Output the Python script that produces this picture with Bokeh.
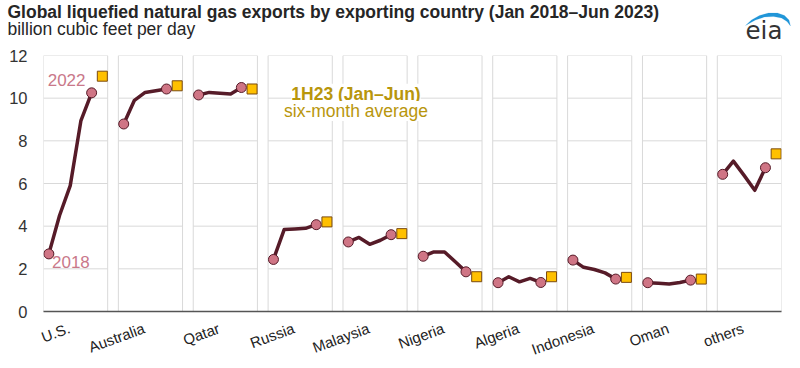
from bokeh.plotting import figure
from bokeh.layouts import column
from bokeh.models import Range1d, FixedTicker, Label, PolyAnnotation
from bokeh.embed import file_html
from bokeh.resources import INLINE

# ---------------- data ----------------
countries = ["U.S.", "Australia", "Qatar", "Russia", "Malaysia",
             "Nigeria", "Algeria", "Indonesia", "Oman", "others"]
years = [2018, 2019, 2020, 2021, 2022]
us        = [2.70, 4.50, 5.90, 8.95, 10.25]
australia = [8.79, 9.90, 10.27, 10.35, 10.43]
qatar     = [10.15, 10.27, 10.23, 10.20, 10.50]
russia    = [2.44, 3.84, 3.87, 3.90, 4.07]
malaysia  = [3.26, 3.47, 3.15, 3.34, 3.60]
nigeria   = [2.59, 2.79, 2.79, 2.33, 1.86]
algeria   = [1.35, 1.63, 1.39, 1.55, 1.36]
indonesia = [2.41, 2.07, 1.97, 1.81, 1.52]
oman      = [1.35, 1.32, 1.29, 1.36, 1.47]
others    = [6.43, 7.05, 6.38, 5.68, 6.74]
h1_2023   = [11.03, 10.58, 10.43, 4.20, 3.65, 1.63, 1.63, 1.60, 1.52, 7.39]
y_ticks = [0, 2, 4, 6, 8, 10, 12]

series = [us, australia, qatar, russia, malaysia, nigeria, algeria, indonesia, oman, others]

# ---------------- style constants ----------------
SLOT = 7          # 6 units of panel + 1 unit gap
PANEL = 6
FONT = "Liberation Sans"
LINE_C = "#561b28"
DOT_C = "#cf7585"
SQ_C = "#ffc000"
SQ_LINE = "#7a4a10"
GRID_C = "#d9d9d9"
PINK_TXT = "#c9788a"
GOLD_TXT = "#b8960c"
HEADER_H = 45
MID = 0.35   # label anchor is the text-box centre: baseline sits MID*font-size below it

# ---------------- header (title, subtitle, logo) ----------------
h = figure(width=800, height=HEADER_H, output_backend="svg", toolbar_location=None,
           x_range=Range1d(0, 800), y_range=Range1d(HEADER_H, 0),
           x_axis_type=None, y_axis_type=None, min_border=0)
h.frame_align = False
h.outline_line_color = None
h.grid.visible = False

def hlabel(x, base, text, fs, **kw):
    h.add_layout(Label(x=x, y=base - MID * fs, text=text, text_font_size=f"{fs}px",
                       text_baseline="alphabetic", **kw))

hlabel(7, 17.3, "Global liquefied natural gas exports by exporting country (Jan 2018\u2013Jun 2023)", 17.5,
       text_font=FONT, text_font_style="bold", text_color="#262626")
hlabel(7, 34.3, "billion cubic feet per day", 17.5, text_font=FONT, text_color="#262626")
hlabel(745, 38.5, "eia", 24.5, text_font="DejaVu Sans", text_color="#333333")
arc_px = [(745, 25), (751, 19.5), (759, 15), (768, 12.5), (777, 12.5), (784, 15), (788.5, 19.5), (790, 25.5),
          (786.5, 21), (781, 17.5), (773, 16), (764, 16.5), (755, 19.5), (745, 25)]
h.add_layout(PolyAnnotation(xs=[a for a, b in arc_px], ys=[b for a, b in arc_px],
                            fill_color="#2196d8", fill_alpha=1, line_color="#2196d8", line_width=0.5))

# ---------------- main chart ----------------
FX0, FX1, FY0, FY1 = 43.0, 781.0, 311.0, 55.0   # frame edges on the page
XMAX = len(countries) * SLOT - 1
p = figure(width=800, height=368 - HEADER_H, output_backend="svg", toolbar_location=None,
           x_range=Range1d(0, XMAX), y_range=Range1d(0, 12),
           min_border_left=int(FX0), min_border_right=int(800 - FX1),
           min_border_top=int(FY1 - HEADER_H), min_border_bottom=int(368 - FY0))
p.outline_line_color = None
p.xgrid.visible = False
p.ygrid.visible = False

# panels
lefts = [i * SLOT for i in range(len(countries))]
rights = [l + PANEL for l in lefts]
p.quad(left=lefts, right=rights, bottom=0, top=12, fill_color=None,
       line_color=GRID_C, line_width=1)
gx0, gx1, gy = [], [], []
for l, r in zip(lefts, rights):
    for t in y_ticks[1:-1]:
        gx0.append(l); gx1.append(r); gy.append(t)
p.segment(x0=gx0, y0=gy, x1=gx1, y1=gy, line_color=GRID_C, line_width=1)

# series
for i, vals in enumerate(series):
    xs = [i * SLOT + 0.5 + (yr - years[0]) for yr in years]
    p.line(xs, vals, line_color=LINE_C, line_width=3.5, line_join="round", line_cap="round")
    p.scatter([xs[0], xs[-1]], [vals[0], vals[-1]], marker="circle", size=10,
              fill_color=DOT_C, line_color=LINE_C, line_width=1)
sq_x = [i * SLOT + 0.5 + (2023 - years[0]) for i in range(len(countries))]
p.scatter(sq_x, h1_2023, marker="square", size=10, fill_color=SQ_C,
          line_color=SQ_LINE, line_width=1)

# axes
p.yaxis.ticker = FixedTicker(ticks=y_ticks)
p.yaxis.axis_line_color = None
p.yaxis.major_tick_line_color = None
p.yaxis.minor_tick_line_color = None
p.yaxis.major_tick_in = 0
p.yaxis.major_tick_out = 0
p.yaxis.major_label_standoff = 16
p.yaxis.major_label_text_font = FONT
p.yaxis.major_label_text_font_size = "16.5px"
p.yaxis.major_label_text_color = "#333333"

label_pos = [i * SLOT + PANEL / 2 - 0.6 for i in range(len(countries))]
p.xaxis.ticker = FixedTicker(ticks=label_pos)
p.xaxis.major_label_overrides = {c: n for c, n in zip(label_pos, countries)}
p.xaxis.major_label_orientation = 0.35
p.xaxis.axis_line_color = "#555555"
p.xaxis.axis_line_width = 1.5
p.xaxis.major_tick_line_color = None
p.xaxis.minor_tick_line_color = None
p.xaxis.major_tick_in = 0
p.xaxis.major_tick_out = 0
p.xaxis.major_label_standoff = 16
p.xaxis.major_label_text_font = FONT
p.xaxis.major_label_text_font_size = "15px"
p.xaxis.major_label_text_color = "#222222"

# page pixel -> data helpers for annotation placement
def dx(px):
    return (px - FX0) / (FX1 - FX0) * XMAX
def dy(py):
    return (FY0 - py) / (FY0 - FY1) * 12

def plabel(xpx, base, text, fs, **kw):
    p.add_layout(Label(x=dx(xpx), y=dy(base - MID * fs), text=text, text_font=FONT,
                       text_font_size=f"{fs}px", text_baseline="alphabetic", **kw))

plabel(85, 85, "2022", 17, text_color=PINK_TXT, text_align="right")
plabel(51.5, 267.3, "2018", 17, text_color=PINK_TXT, text_align="left")
plabel(355.5, 99.3, "1H23 (Jan\u2013Jun)", 17.5, text_font_style="bold", text_color=GOLD_TXT,
       text_align="center", background_fill_color="white")
plabel(355.5, 116.7, "six-month average", 17.5, text_color=GOLD_TXT,
       text_align="center", background_fill_color="white")

layout = column(h, p, spacing=0)
open("out.html", "w").write(file_html(layout, INLINE))
